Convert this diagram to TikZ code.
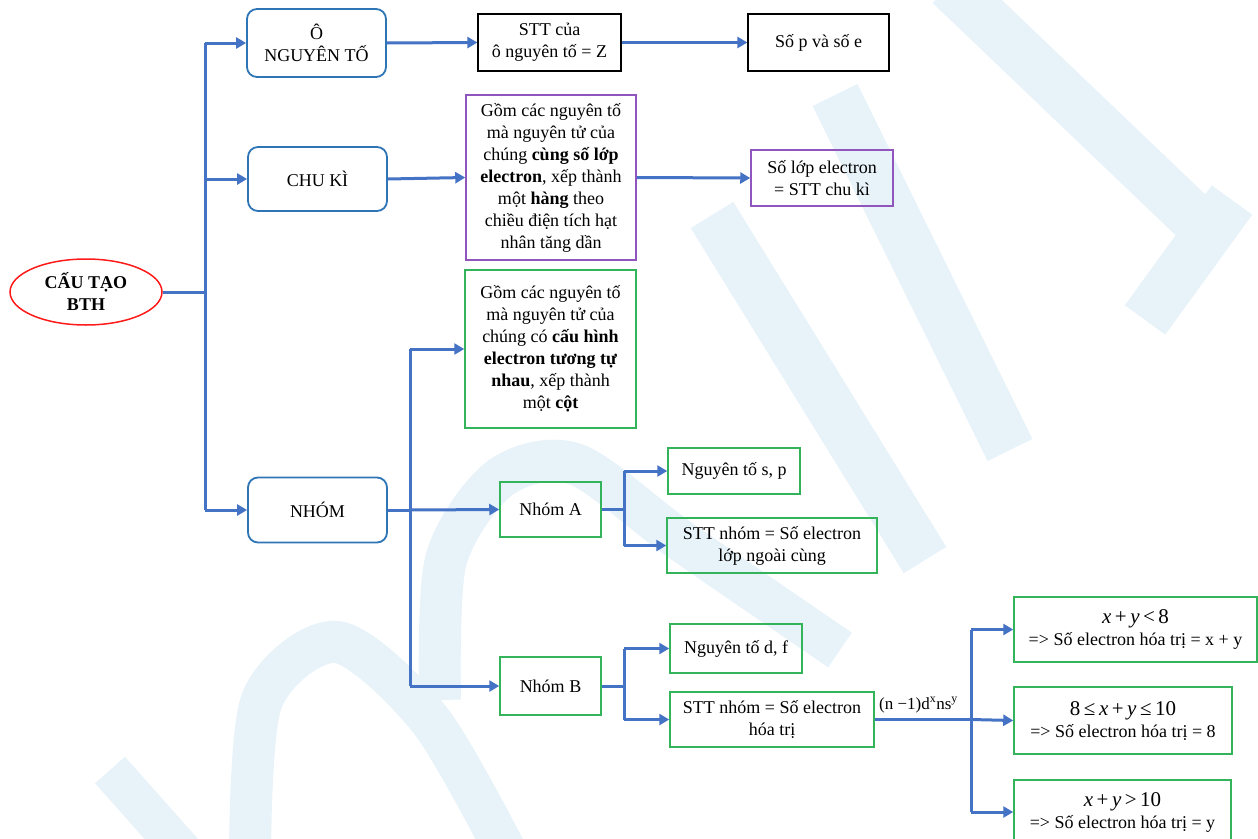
\documentclass[tikz,border=0pt]{standalone}
\usepackage{fontspec}
\setmainfont{Liberation Serif}
\usetikzlibrary{arrows.meta,shapes.geometric}
\definecolor{conn}{HTML}{4472C4}
\definecolor{rblue}{HTML}{2E75B6}
\definecolor{gbox}{HTML}{33B35A}
\definecolor{pbox}{HTML}{9155BE}
\definecolor{rred}{HTML}{FF1A1A}
\definecolor{wmark}{HTML}{E8F3F9}
\newcommand\mathsz{\fontsize{21}{24}\selectfont}
\tikzset{
  base/.style={font=\fontsize{18}{22}\selectfont, align=center, inner sep=2pt},
  rbox/.style={base, draw=rblue, line width=1.8pt, rounded corners=10pt},
  kbox/.style={base, draw=black, line width=1.2pt},
  gnode/.style={base, draw=gbox, line width=1.5pt},
  pnode/.style={base, draw=pbox, line width=1.5pt},
  wire/.style={draw=conn, line width=3pt},
  arr/.style={draw=conn, line width=3pt, -{Triangle[length=10pt,width=11pt]}},
  wm/.style={draw=wmark, line width=50pt}
}
\begin{document}
\begin{tikzpicture}[x=1pt,y=-1pt]
\useasboundingbox (0,0) rectangle (1258,838);
% faint watermark
\begin{scope}
\clip (0,0) rectangle (1258,838);
\draw[wm] (950,-15) -- (1222,245);
\draw[wm] (835,95) -- (1010,450);
\draw[wm] (712,215) -- (925,560);
\draw[wm] (1145,320) -- (1232,200);
\draw[wm, line width=42pt] plot[smooth] coordinates {(440,700) (446,560) (500,478) (575,464) (680,540) (840,650)};
\draw[wm, line width=42pt] plot[smooth] coordinates {(250,860) (262,700) (337,642) (430,720) (510,860)};
\draw[wm, line width=40pt] (110,770) -- (190,860);
\end{scope}
% nodes
\node[base, ellipse, draw=rred, line width=1.5pt, minimum width=152pt, minimum height=66pt, font=\fontsize{18}{22}\selectfont\bfseries] (root) at (86,292) {CẤU TẠO\\BTH};
\node[rbox, minimum width=139pt, minimum height=68pt] (o) at (316.5,43) {Ô\\NGUYÊN TỐ};
\node[rbox, minimum width=139pt, minimum height=64pt] (ck) at (317.5,179) {CHU KÌ};
\node[rbox, minimum width=139pt, minimum height=65pt] (nh) at (317.5,510) {NHÓM};
\node[kbox, minimum width=143pt, minimum height=57pt] (stt) at (549.5,42.5) {STT của\\ô nguyên tố = Z};
\node[kbox, minimum width=141pt, minimum height=57pt] (spe) at (818.5,42.5) {Số p và số e};
\node[pnode, minimum width=170pt, minimum height=165pt] (p1) at (551,177.5) {Gồm các nguyên tố\\mà nguyên tử của\\chúng \textbf{cùng số lớp}\\\textbf{electron}, xếp thành\\một \textbf{hàng} theo\\chiều điện tích hạt\\nhân tăng dần};
\node[pnode, minimum width=142pt, minimum height=56pt] (p2) at (822,178) {Số lớp electron\\= STT chu kì};
\node[gnode, minimum width=171pt, minimum height=158pt] (g1) at (550.5,349) {Gồm các nguyên tố\\mà nguyên tử của\\chúng có \textbf{cấu hình}\\\textbf{electron tương tự}\\\textbf{nhau}, xếp thành\\một \textbf{cột}};
\node[gnode, minimum width=101pt, minimum height=55pt] (na) at (550.5,509.5) {Nhóm A};
\node[gnode, minimum width=132pt, minimum height=46pt] (sp) at (734,471) {Nguyên tố s, p};
\node[gnode, minimum width=210pt, minimum height=55pt] (sa) at (772,545.5) {STT nhóm = Số electron\\lớp ngoài cùng};
\node[gnode, minimum width=101pt, minimum height=58pt] (nb) at (550.5,686) {Nhóm B};
\node[gnode, minimum width=132pt, minimum height=49pt] (df) at (736,648.5) {Nguyên tố d, f};
\node[gnode, minimum width=204pt, minimum height=55pt] (sb) at (772,719.5) {STT nhóm = Số electron\\hóa trị};
\node[gnode, minimum width=243pt, minimum height=65pt] (b1) at (1135.5,629.5) {{\mathsz\textit{x}\,+\,\textit{y}\,<\,8}\\=> Số electron hóa trị = x + y};
\node[gnode, minimum width=218pt, minimum height=67pt] (b2) at (1123,720.5) {{\mathsz 8\,≤\,\textit{x}\,+\,\textit{y}\,≤\,10}\\=> Số electron hóa trị = 8};
\node[gnode, minimum width=217pt, minimum height=64pt] (b3) at (1122.5,812) {{\mathsz\textit{x}\,+\,\textit{y}\,>\,10}\\=> Số electron hóa trị = y};
\node[font=\fontsize{17}{20}\selectfont, anchor=south west, inner sep=1pt] (lbl) at (878,714) {(n −1)d\textsuperscript{x}ns\textsuperscript{y}};
% junctions
\coordinate (j1) at (205,292);
\coordinate (j1a) at (205,43);
\coordinate (j1b) at (205,179);
\coordinate (j1c) at (205,510);
\coordinate (j2) at (410,510);
\coordinate (j2a) at (410,349);
\coordinate (j2b) at (410,686);
\coordinate (j3) at (624,509.5);
\coordinate (j3a) at (624,471);
\coordinate (j3b) at (624,545.5);
\coordinate (j4) at (624,686);
\coordinate (j4a) at (624,648.5);
\coordinate (j4b) at (624,719.5);
\coordinate (j5) at (971,719.5);
\coordinate (j5a) at (971,629.5);
\coordinate (j5b) at (971,812);
% connectors
\draw[wire] (root.east) -- (j1);
\draw[wire] (j1a) -- (j1c);
\draw[arr] (j1a) -- (o.west);
\draw[arr] (j1b) -- (ck.west);
\draw[arr] (j1c) -- (nh.west);
\draw[arr] (o.east) -- (stt.west);
\draw[arr] (stt.east) -- (spe.west);
\draw[arr] (ck.east) -- (p1.west);
\draw[arr] (p1.east) -- (p2.west);
\draw[wire] (nh.east) -- (j2);
\draw[wire] (j2a) -- (j2b);
\draw[arr] (j2a) -- (g1.west);
\draw[arr] (j2) -- (na.west);
\draw[arr] (j2b) -- (nb.west);
\draw[wire] (na.east) -- (j3);
\draw[wire] (j3a) -- (j3b);
\draw[arr] (j3a) -- (sp.west);
\draw[arr] (j3b) -- (sa.west);
\draw[wire] (nb.east) -- (j4);
\draw[wire] (j4a) -- (j4b);
\draw[arr] (j4a) -- (df.west);
\draw[arr] (j4b) -- (sb.west);
\draw[wire] (sb.east) -- (j5);
\draw[wire] (j5a) -- (j5b);
\draw[arr] (j5a) -- (b1.west);
\draw[arr] (j5) -- (b2.west);
\draw[arr] (j5b) -- (b3.west);
\end{tikzpicture}
\end{document}
